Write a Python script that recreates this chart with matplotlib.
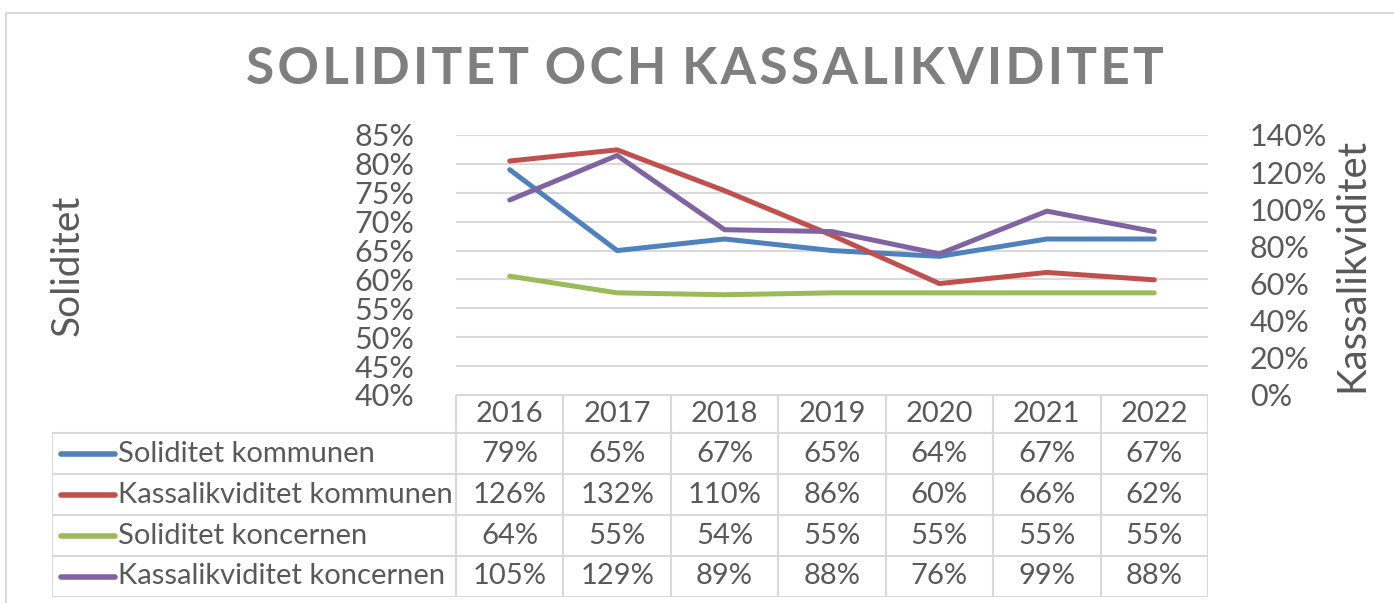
import numpy as np
import matplotlib
matplotlib.use("Agg")
import matplotlib.pyplot as plt
from matplotlib.patches import Rectangle

plt.rcParams['font.family'] = ['Lato', 'DejaVu Sans']

years = ["2016", "2017", "2018", "2019", "2020", "2021", "2022"]
series_names = ["Soliditet kommunen", "Kassalikviditet kommunen",
                "Soliditet koncernen", "Kassalikviditet koncernen"]
soliditet_kommunen = [79, 65, 67, 65, 64, 67, 67]
kassa_kommunen = [126, 132, 110, 86, 60, 66, 62]
soliditet_koncernen = [64, 55, 54, 55, 55, 55, 55]
kassa_koncernen = [105, 129, 89, 88, 76, 99, 88]
all_series = [soliditet_kommunen, kassa_kommunen, soliditet_koncernen, kassa_koncernen]
on_secondary = [False, True, True, True]
colors = ["#4F81BD", "#C0504D", "#9BBB59", "#8064A2"]

left_ticks = list(range(40, 90, 5))
right_ticks = list(range(0, 160, 20))

W, H = 1394, 603
fig = plt.figure(figsize=(W / 100, H / 100), dpi=100)

def px_axes(x0, y0, x1, y1):
    return fig.add_axes([x0 / W, 1 - y1 / H, (x1 - x0) / W, (y1 - y0) / H])

# outer chart border
fig.patches.append(Rectangle((6 / W, -0.1), (W - 6) / W + 0.1, 1 - 13 / H + 0.1,
                             transform=fig.transFigure, fill=False,
                             edgecolor="#d9d9d9", lw=1.5))

grey = "#595959"
ax = px_axes(456, 135, 1208, 395)
ax2 = ax.twinx()
x = np.arange(len(years))
for vals, sec, c in zip(all_series, on_secondary, colors):
    (ax2 if sec else ax).plot(x, vals, color=c, lw=3.6, solid_capstyle="round", zorder=3)

ax.set_xlim(-0.5, len(years) - 0.5)
ax.set_ylim(40, 85)
ax2.set_ylim(0, 140)
ax.set_yticks(left_ticks)
ax.set_yticklabels([f"{t}%" for t in left_ticks])
ax2.set_yticks(right_ticks)
ax2.set_yticklabels([f"{t}%" for t in right_ticks])
ax.set_xticks([])
ax.grid(axis="y", color="#d9d9d9", lw=1.5)
ax.set_axisbelow(True)
for a in (ax, ax2):
    for s in a.spines.values():
        s.set_visible(False)
ax.tick_params(axis="y", length=0, pad=30, labelsize=22, labelcolor=grey)
ax2.tick_params(axis="y", length=0, pad=30, labelsize=22, labelcolor=grey)

fig.text(68 / W, 1 - 265 / H, "Soliditet", rotation=90, ha="center", va="center",
         fontsize=28, color=grey)
fig.text(1352 / W, 1 - 265 / H, "Kassalikviditet", rotation=90, ha="center", va="center",
         fontsize=29, color=grey)

title = "SOLIDITET OCH KASSALIKVIDITET"
spaced = " \u200a".join("\u200a".join(w) for w in title.split(" "))
fig.text(705 / W, 1 - 70 / H, spaced, ha="center", va="center",
         fontsize=37, fontweight="bold", color="#7f7f7f")

# data table
tab = px_axes(52, 395, 1208, 597)
tab.set_xlim(0, 1156)
tab.set_ylim(202, 0)
tab.axis("off")
label_w = 404
col_w = (1156 - label_w) / len(years)
row_edges = [0, 38, 79, 120, 161, 202]
lc = "#d9d9d9"
tab.plot([label_w, 1156], [0, 0], color=lc, lw=1.5)
for yy in row_edges[1:]:
    tab.plot([0, 1156], [yy, yy], color=lc, lw=1.5)
tab.plot([0, 0], [38, 202], color=lc, lw=1.5)
for i in range(len(years) + 1):
    xx = label_w + i * col_w
    tab.plot([xx, xx], [0, 202], color=lc, lw=1.5)
for i, yr in enumerate(years):
    tab.text(label_w + (i + 0.5) * col_w, 19, yr, ha="center", va="center",
             fontsize=21, color=grey)
for r, (name, vals, c) in enumerate(zip(series_names, all_series, colors)):
    yc = (row_edges[r + 1] + row_edges[r + 2]) / 2
    tab.plot([9, 63], [yc, yc], color=c, lw=4, solid_capstyle="round")
    tab.text(66, yc, name, ha="left", va="center", fontsize=21, color=grey)
    for i, v in enumerate(vals):
        tab.text(label_w + (i + 0.5) * col_w, yc, f"{v}%", ha="center", va="center",
                 fontsize=21, color=grey)

fig.savefig("out.png", dpi=100)
